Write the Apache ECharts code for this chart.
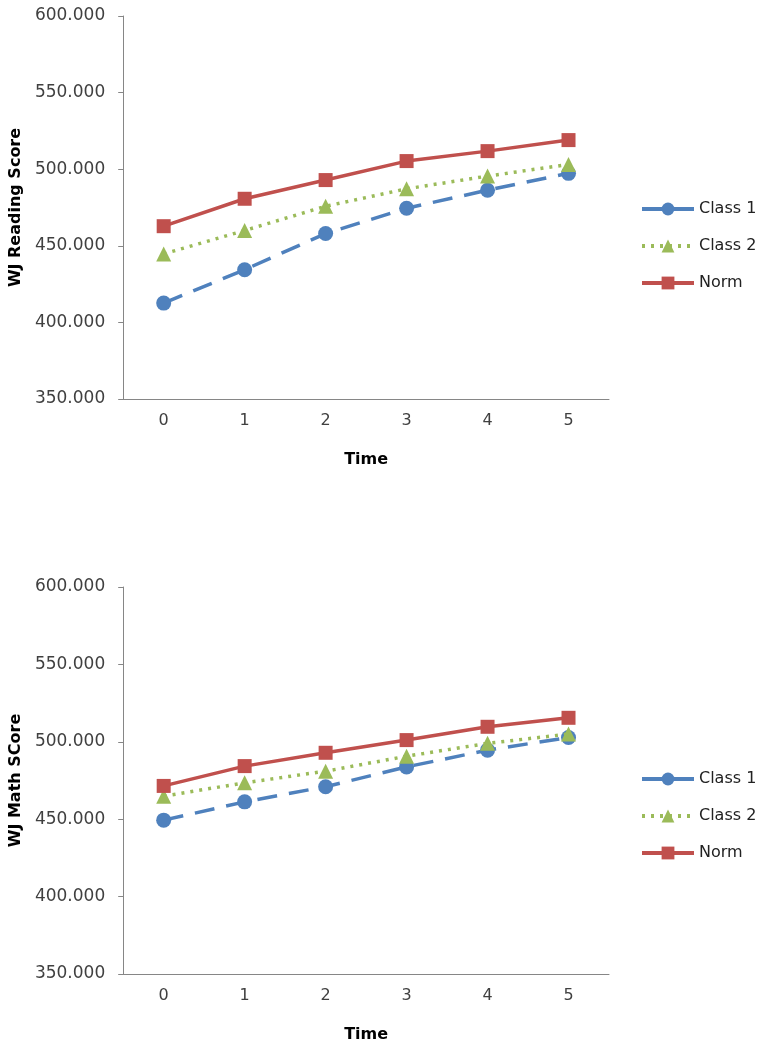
<!DOCTYPE html>
<html><head><meta charset="utf-8">
<script src="https://cdn.jsdelivr.net/npm/echarts@6/dist/echarts.min.js"></script>
<style>html,body{margin:0;padding:0;background:#fff}#c{width:766px;height:1047px}</style>
</head><body><div id="c"></div>
<script>
const categories = ['0','1','2','3','4','5'];
const seriesNames = ['Class 1','Class 2','Norm'];
const readingClass1 = [412.6, 434.4, 458.0, 474.5, 486.3, 497.3];
const readingClass2 = [444.7, 460.0, 475.8, 487.2, 495.5, 503.1];
const readingNorm   = [462.8, 480.7, 492.9, 505.3, 511.8, 519.0];
const mathClass1 = [449.4, 461.2, 471.0, 483.8, 494.6, 502.8];
const mathClass2 = [464.9, 473.5, 481.0, 490.7, 499.0, 505.0];
const mathNorm   = [471.5, 484.3, 492.9, 501.1, 509.7, 515.5];
const yTitles = ['WJ Reading Score', 'WJ Math SCore'];
const xTitle = 'Time';

const FONT = 'DejaVu Sans';
const colors = ['#4F81BD', '#9BBB59', '#C0504D'];
const styles = [
  {symbol:'circle', symbolSize:15, type:[20,12]},
  {symbol:'triangle', symbolSize:15, type:[3,6]},
  {symbol:'rect', symbolSize:14, type:'solid'}
];
const grids = [
  {left:122, right:157, top:16, height:383},
  {left:122, right:157, top:587, height:387}
];
function xAx(i){return {gridIndex:i, type:'category', data:categories, boundaryGap:true,
  axisLine:{lineStyle:{color:'#868686', width:1}},
  axisTick:{alignWithLabel:true, length:5, lineStyle:{color:'#868686'}},
  axisLabel:{color:'#404040', fontSize:16, fontFamily:FONT, margin:14},
  name:xTitle, nameLocation:'middle', nameGap:53,
  nameTextStyle:{color:'#000', fontSize:16, fontWeight:'bold', fontFamily:FONT},
  splitLine:{show:false}};}
function yAx(i){return {gridIndex:i, type:'value', min:350, max:600, interval:50,
  axisLine:{show:true, lineStyle:{color:'#868686', width:1}},
  axisTick:{show:true, length:5, lineStyle:{color:'#868686'}},
  axisLabel:{color:'#404040', fontSize:17, fontFamily:FONT, margin:18, formatter:v=>v.toFixed(3)},
  splitLine:{show:false},
  name:yTitles[i], nameLocation:'middle', nameGap:97,
  nameTextStyle:{color:'#000', fontSize:16, fontWeight:'bold', fontFamily:FONT}};}
const dataSets = [[readingClass1, readingClass2, readingNorm],[mathClass1, mathClass2, mathNorm]];
const series = [];
dataSets.forEach((ds, gi) => {
  ds.forEach((d, si) => {
    series.push({name:seriesNames[si], type:'line', xAxisIndex:gi, yAxisIndex:gi, data:d,
      symbol:styles[si].symbol, symbolSize:styles[si].symbolSize,
      lineStyle:{color:colors[si], width:3.5, type:styles[si].type},
      itemStyle:{color:colors[si]}, emphasis:{disabled:true}, animation:false, z: 2+si});
  });
});
function legend(top){return {orient:'vertical', left:640, top:top, itemWidth:52, itemHeight:16, itemGap:21,
  data:seriesNames, lineStyle:{width:4}, textStyle:{color:'#222', fontSize:16, fontFamily:FONT}, padding:0};}
const chart = echarts.init(document.getElementById('c'));
chart.setOption({
  animation:false,
  grid:grids,
  xAxis:[xAx(0), xAx(1)],
  yAxis:[yAx(0), yAx(1)],
  legend:[legend(201), legend(771)],
  series:series
});
</script></body></html>
